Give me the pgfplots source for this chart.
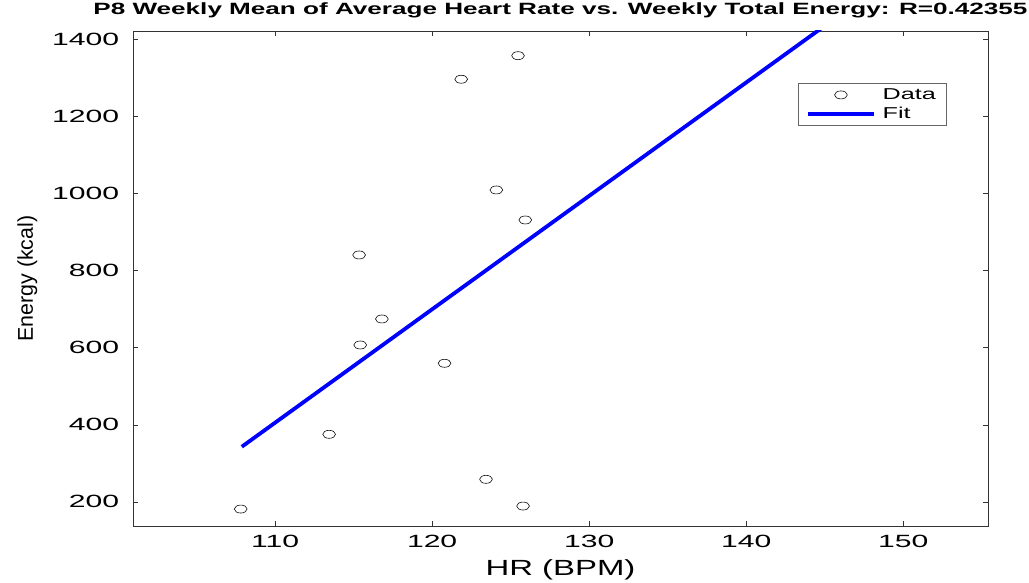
\documentclass[border=0pt]{standalone}
\usepackage{pgfplots}
\pgfplotsset{compat=1.18}
\usepackage{fontspec}
\setmainfont{Liberation Sans}
% the reference text is rendered wide, so stretch the glyphs
\newfontfamily\wideA[FakeStretch=1.6]{Liberation Sans}
\newfontfamily\wideB[FakeStretch=1.5]{Liberation Sans}
\newfontfamily\wideC[FakeStretch=1.7]{Liberation Sans}

\begin{document}
\begin{tikzpicture}
\begin{axis}[
    scale only axis,
    width=213.75mm, height=123.75mm,
    xmin=100.95, xmax=155.4,
    ymin=137, ymax=1421.5,
    xtick={110,120,...,150},
    ytick={200,400,...,1400},
    tick align=inside,
    major tick length=1.25mm,
    axis line style={black!80},
    tick style={black!80},
    /pgf/number format/assume math mode=true,
    /pgf/number format/1000 sep={},
    tick label style={font=\fontsize{12.6}{14}\selectfont\wideC},
    xticklabel style={yshift=-1mm},
    yticklabel style={xshift=-2.2mm},
    title={P8 Weekly Mean of Average Heart Rate vs. Weekly Total Energy: R=0.42355},
    title style={at={(axis description cs:0.5,1.0162)}, anchor=base,
        font=\fontsize{11.6}{13}\selectfont\wideA\bfseries},
    xlabel={HR (BPM)},
    xlabel style={at={(axis description cs:0.5,-0.101)}, anchor=base,
        font=\fontsize{15.6}{18}\selectfont\wideB},
    ylabel={Energy (kcal)},
    ylabel style={at={(axis description cs:-0.117,0.5)}, anchor=base,
        font=\fontsize{15.2}{17}\selectfont},
    legend style={at={(axis description cs:0.952,0.895)}, anchor=north east,
        draw=black!60, line width=0.4pt,
        font=\fontsize{11.2}{13}\selectfont\wideA,
        inner xsep=2mm, inner ysep=0.6mm, cells={anchor=west}},
    legend image code/.code={
        \draw[mark repeat=2,mark phase=2,#1] plot coordinates {(0mm,0mm) (8.25mm,0mm) (16.5mm,0mm)};
        \path (17.5mm,0mm);},
]
\addplot[only marks, mark=o, mark size=1mm,
    mark options={xscale=1.6, black, line width=0.4pt}] coordinates {
    (107.81, 181.0)
    (113.44, 374.9)
    (115.35, 840.3)
    (115.42, 606.7)
    (116.80, 674.2)
    (120.79, 559.2)
    (121.85, 1296.3)
    (123.43, 258.1)
    (124.09, 1009.0)
    (125.47, 1357.5)
    (125.93, 931.1)
    (125.79, 188.8)
};
\addlegendentry{Data}
\addplot[blue, line width=0.95mm] coordinates {
    (107.88, 342.7)
    (155.4, 1741.0)
};
\addlegendentry{Fit}
\end{axis}
\pgfresetboundingbox
\path[use as bounding box] ([shift={(-33.25mm,-14mm)}]current axis.south west)
    rectangle ([shift={(10.25mm,7.75mm)}]current axis.north east);
\end{tikzpicture}
\end{document}
